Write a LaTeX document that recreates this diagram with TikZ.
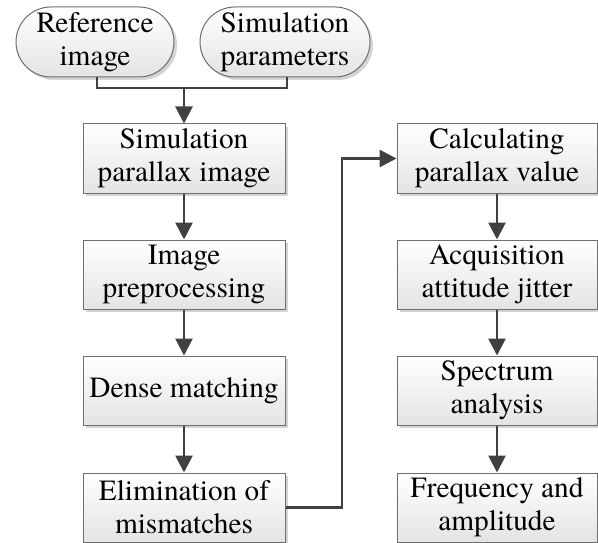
\documentclass[tikz,border=0pt]{standalone}
\usepackage{fontspec}
\setmainfont{texgyretermes-regular.otf}
\usetikzlibrary{arrows.meta,shadows}
\definecolor{boxline}{HTML}{6E6E6E}
\definecolor{arrowc}{HTML}{404040}
\definecolor{shadowc}{HTML}{D4D4D4}
\definecolor{boxbot}{HTML}{E4E4E4}
\tikzset{
  procbox/.style={draw=boxline, line width=1pt, top color=white, bottom color=boxbot,
    minimum width=202pt, minimum height=69pt, inner sep=0pt, align=center,
    font=\fontsize{29.3}{33}\selectfont,
    drop shadow={shadow xshift=3pt, shadow yshift=-3pt, fill=shadowc, opacity=1}},
  startbox/.style={procbox, rounded corners=35pt, minimum height=70pt},
  flow/.style={draw=arrowc, line width=2.8pt, -{Triangle[length=17pt,width=17pt]}},
  joinline/.style={draw=arrowc, line width=2.8pt}
}
\begin{document}
\begin{tikzpicture}[x=1pt,y=-1pt]
\useasboundingbox (0,0) rectangle (598,543);
\node[startbox, minimum width=158pt] (ref) at (95,42) {Reference\\image};
\node[startbox, minimum width=170pt] (sim) at (285,42) {Simulation\\parameters};
\node[procbox] (b1) at (184,158.5) {Simulation\\parallax image};
\node[procbox] (b2) at (184,274.5) {Image\\preprocessing};
\node[procbox] (b3) at (184,390.5) {Dense matching};
\node[procbox] (b4) at (184,507.5) {Elimination of\\mismatches};
\node[procbox, minimum width=200pt] (c1) at (497,158.5) {Calculating\\parallax value};
\node[procbox, minimum width=200pt] (c2) at (497,274.5) {Acquisition\\attitude jitter};
\node[procbox, minimum width=200pt] (c3) at (497,390.5) {Spectrum\\analysis};
\node[procbox, minimum width=200pt] (c4) at (497,507.5) {Frequency and\\amplitude};
\coordinate (mid) at (184,88);
\coordinate (turn) at (342,0);
\draw[joinline] ([xshift=2pt]ref.south) |- (mid) -| ([xshift=2pt]sim.south);
\draw[flow] (mid) -- (b1.north);
\draw[flow] (b1) -- (b2);
\draw[flow] (b2) -- (b3);
\draw[flow] (b3) -- (b4);
\draw[flow] (b4.east) -| (turn |- c1.west) -- (c1.west);
\draw[flow] (c1) -- (c2);
\draw[flow] (c2) -- (c3);
\draw[flow] (c3) -- (c4);
\end{tikzpicture}
\end{document}
